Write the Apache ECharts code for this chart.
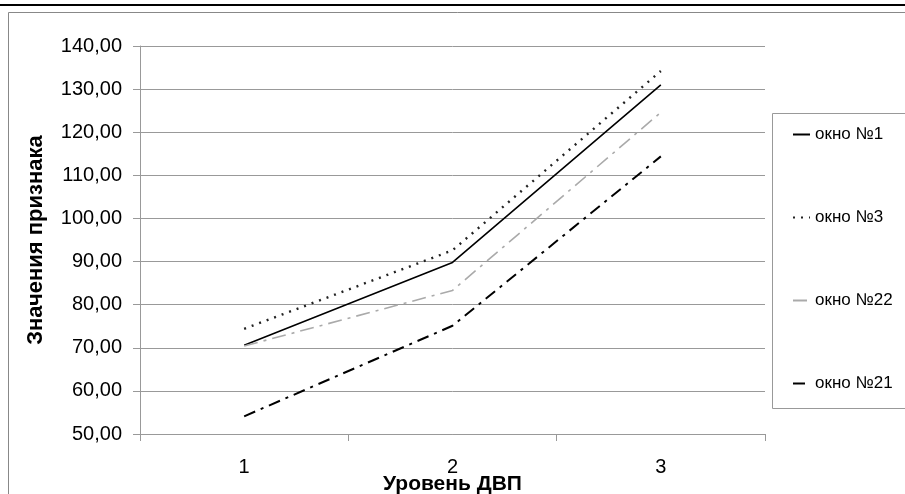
<!DOCTYPE html>
<html><head><meta charset="utf-8">
<script src="https://cdn.jsdelivr.net/npm/echarts@6/dist/echarts.min.js"></script>
<style>html,body{margin:0;padding:0;background:#fff}#c{width:905px;height:494px}</style>
</head><body><div id="c"></div>
<script>
const categories = ['1', '2', '3'];
const okno1 = [70.6, 89.8, 131.0];
const okno3 = [74.4, 92.6, 134.2];
const okno22 = [70.4, 83.3, 124.6];
const okno21 = [54.1, 75.1, 114.4];
const seriesNames = ['окно №1', 'окно №3', 'окно №22', 'окно №21'];
const yMin = 50, yMax = 140, yStep = 10;

const font = 'Liberation Sans, Arial, sans-serif';
const chart = echarts.init(document.getElementById('c'));
chart.setOption({
  animation: false,
  backgroundColor: '#fff',
  graphic: [
    { type: 'line', shape: { x1: 0, y1: 5, x2: 905, y2: 5 }, style: { stroke: '#000', lineWidth: 2 } },
    { type: 'rect', shape: { x: 8.5, y: 12.5, width: 910, height: 500 }, style: { fill: null, stroke: '#888', lineWidth: 1 } },
    { type: 'rect', shape: { x: 772.5, y: 113.5, width: 200, height: 295 }, style: { fill: null, stroke: '#999', lineWidth: 1 } }
  ],
  grid: { left: 140, right: 140, top: 46, bottom: 60, containLabel: false, outerBoundsMode: 'none' },
  legend: {
    orient: 'vertical', left: 787, top: 121, itemGap: 66, itemWidth: 17, itemHeight: 14,
    itemStyle: { opacity: 0 },
    textStyle: { fontFamily: font, fontSize: 17, color: '#000' },
    data: seriesNames
  },
  xAxis: {
    type: 'category', data: categories, boundaryGap: true,
    name: 'Уровень ДВП', nameLocation: 'middle', nameGap: 40, nameMoveOverlap: false,
    nameTextStyle: { fontFamily: font, fontSize: 21, fontWeight: 'bold', color: '#000' },
    axisLine: { lineStyle: { color: '#999' } },
    axisTick: { show: true, length: 7, lineStyle: { color: '#999' } },
    axisLabel: { fontFamily: font, fontSize: 20, color: '#000', margin: 23 },
    splitLine: { show: false }
  },
  yAxis: {
    type: 'value', min: yMin, max: yMax, interval: yStep,
    name: 'Значения признака', nameLocation: 'middle', nameRotate: 90, nameGap: 93, nameMoveOverlap: false,
    nameTextStyle: { fontFamily: font, fontSize: 22, fontWeight: 'bold', color: '#000' },
    axisLine: { show: true, lineStyle: { color: '#999' } },
    axisTick: { show: true, length: 7, lineStyle: { color: '#999' } },
    axisLabel: { fontFamily: font, fontSize: 20, color: '#000', margin: 18,
      formatter: v => v.toFixed(2).replace('.', ',') },
    splitLine: { show: true, lineStyle: { color: '#999', width: 1 } }
  },
  series: [
    { name: seriesNames[0], type: 'line', data: okno1, symbol: 'none',
      lineStyle: { color: '#000', width: 1.6, type: 'solid' }, itemStyle: { color: '#000' } },
    { name: seriesNames[1], type: 'line', data: okno3, symbol: 'none',
      lineStyle: { color: '#222', width: 2.4, type: [2, 6] }, itemStyle: { color: '#222' } },
    { name: seriesNames[2], type: 'line', data: okno22, symbol: 'none',
      lineStyle: { color: '#aaa', width: 1.6, type: [14, 6, 3, 6] }, itemStyle: { color: '#aaa' } },
    { name: seriesNames[3], type: 'line', data: okno21, symbol: 'none',
      lineStyle: { color: '#000', width: 2, type: [12, 6, 3, 6] }, itemStyle: { color: '#000' } }
  ]
});
</script></body></html>
